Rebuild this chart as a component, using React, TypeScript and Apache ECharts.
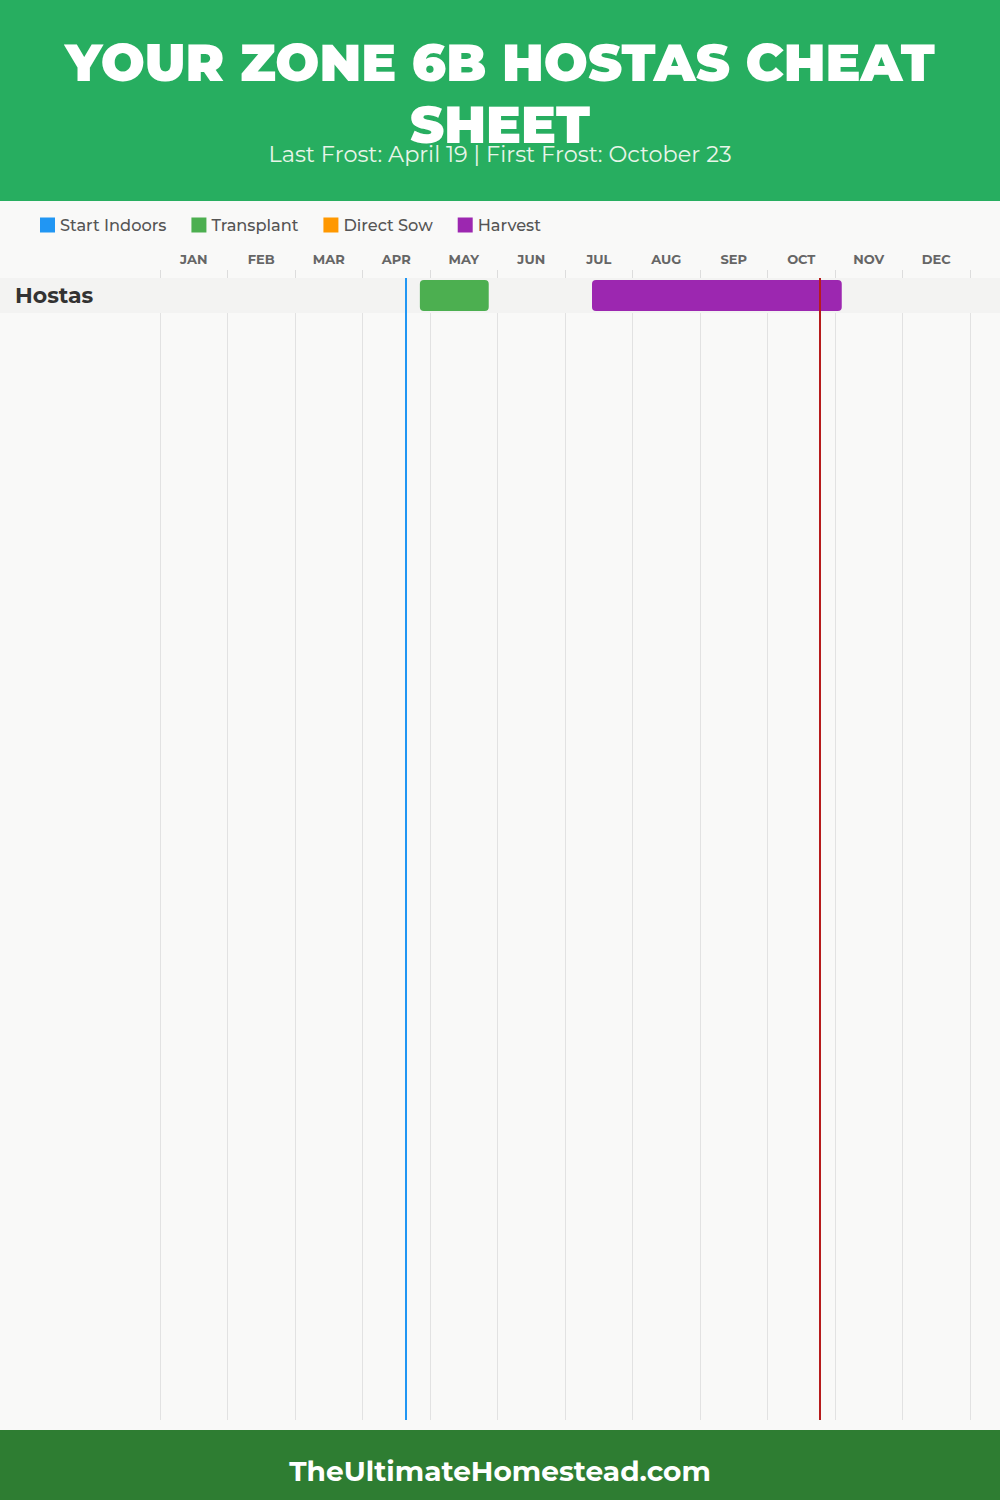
import React, { useEffect, useRef } from "react";
import * as echarts from "echarts";

const titleText = "YOUR ZONE 6B HOSTAS CHEAT\nSHEET";
const subtitleText = "Last Frost: April 19 | First Frost: October 23";
const footerText = "TheUltimateHomestead.com";

const months = ["JAN", "FEB", "MAR", "APR", "MAY", "JUN", "JUL", "AUG", "SEP", "OCT", "NOV", "DEC"];
const crops = ["Hostas"];

// [cropIndex, startMonth, endMonth] in fractional months (0 = Jan 1)
const startIndoors: number[][] = [];
const transplant: number[][] = [[0, 3.85, 4.87]];
const directSow: number[][] = [];
const harvest: number[][] = [[0, 6.4, 10.1]];

const lastFrost = 3.64; // April 19
const firstFrost = 9.77; // October 23

const activityNames = ["Start Indoors", "Transplant", "Direct Sow", "Harvest"];
const activityColors = ["#2196f3", "#4caf50", "#ff9800", "#9c27b0"];
const activityData = [startIndoors, transplant, directSow, harvest];

const FONT = "Montserrat, 'Open Sans', 'Noto Sans', sans-serif";

export default function App() {
  const ref = useRef<HTMLDivElement>(null);
  useEffect(() => {
    document.body.style.margin = "0";
    const chart = echarts.init(ref.current!, null, { renderer: "svg" });

    const barRender = (color: string) => (params: any, api: any) => {
      const row = api.value(0);
      const s = api.coord([api.value(1), row]);
      const e = api.coord([api.value(2), row]);
      const h = api.size([0, 1])[1];
      return {
        type: "rect",
        shape: { x: s[0], y: s[1] + 2, width: e[0] - s[0], height: h - 4, r: 4 },
        style: { fill: color },
      };
    };

    const activitySeries: any[] = activityNames.map((name, i) => ({
      type: "custom",
      name,
      color: activityColors[i],
      itemStyle: { color: activityColors[i] },
      renderItem: barRender(activityColors[i]),
      encode: { x: [1, 2], y: 0 },
      data: activityData[i],
      z: 3,
    }));

    activitySeries.push({
      type: "custom",
      name: "frost",
      renderItem: () => ({ type: "group", children: [] }),
      data: [],
      z: 5,
      markLine: {
        silent: true,
        symbol: "none",
        label: { show: false },
        data: [
          { xAxis: lastFrost, lineStyle: { color: "#2196f3", width: 2, type: "solid" } },
          { xAxis: firstFrost, lineStyle: { color: "#b71c1c", width: 2, type: "solid" } },
        ],
      },
    });

    chart.setOption({
      animation: false,
      backgroundColor: "#f9f9f8",
      textStyle: { fontFamily: FONT },
      graphic: [
        { type: "rect", left: 0, top: 0, shape: { width: 1000, height: 201 }, style: { fill: "#27ae60" }, z: 10 },
        {
          type: "text",
          x: 500,
          y: 93,
          z: 11,
          style: {
            text: titleText,
            fill: "#ffffff",
            font: `900 52px ${FONT}`,
            align: "center",
            verticalAlign: "middle",
            lineHeight: 62,
          },
        },
        {
          type: "text",
          x: 500,
          y: 154,
          z: 11,
          style: {
            text: subtitleText,
            fill: "#e8f5e9",
            font: `400 22.4px ${FONT}`,
            align: "center",
            verticalAlign: "middle",
          },
        },
        { type: "rect", left: 0, top: 1430, shape: { width: 1000, height: 70 }, style: { fill: "#2e7d32" }, z: 10 },
        {
          type: "text",
          x: 500,
          y: 1471,
          z: 11,
          style: {
            text: footerText,
            fill: "#ffffff",
            font: `700 28px ${FONT}`,
            align: "center",
            verticalAlign: "middle",
          },
        },
      ],
      legend: {
        data: activityNames,
        left: 35,
        top: 212,
        icon: "rect",
        itemWidth: 15,
        itemHeight: 15,
        itemGap: 25,
        textStyle: { fontSize: 16.2, fontWeight: 500, color: "#555", fontFamily: FONT },
      },
      grid: { left: 160, right: 30, top: 278, bottom: 80 },
      xAxis: [
        {
          type: "value",
          position: "top",
          min: 0,
          max: 12,
          interval: 1,
          axisLine: { show: false },
          axisTick: { show: true, length: 8, lineStyle: { color: "#dddddd" } },
          axisLabel: { show: false },
          splitLine: { show: true, lineStyle: { color: "#e2e2e2", width: 1 } },
        },
        {
          type: "category",
          position: "top",
          data: months,
          boundaryGap: true,
          axisLine: { show: false },
          axisTick: { show: false },
          axisLabel: { fontSize: 13, fontWeight: "bold", color: "#666", margin: 13, fontFamily: FONT },
          splitLine: { show: false },
        },
      ],
      yAxis: {
        type: "value",
        inverse: true,
        min: 0,
        max: 32.63,
        show: false,
      },
      series: [
        {
          type: "custom",
          name: "rows",
          z: 1,
          renderItem: (params: any, api: any) => {
            const row = api.value(0);
            const top = api.coord([0, row]);
            const h = api.size([0, 1])[1];
            return {
              type: "group",
              children: [
                {
                  type: "rect",
                  shape: { x: 0, y: top[1], width: api.getWidth(), height: h },
                  style: { fill: "#f3f3f2" },
                },
                {
                  type: "text",
                  x: 15,
                  y: top[1] + h / 2,
                  style: {
                    text: crops[row],
                    fill: "#333",
                    font: `700 22px ${FONT}`,
                    verticalAlign: "middle",
                  },
                },
              ],
            };
          },
          encode: { x: 1, y: 0 },
          data: crops.map((c, i) => [i, 0]),
        },
        ...activitySeries,
      ],
    });
    return () => chart.dispose();
  }, []);
  return <div ref={ref} style={{ width: 1000, height: 1500 }} />;
}
